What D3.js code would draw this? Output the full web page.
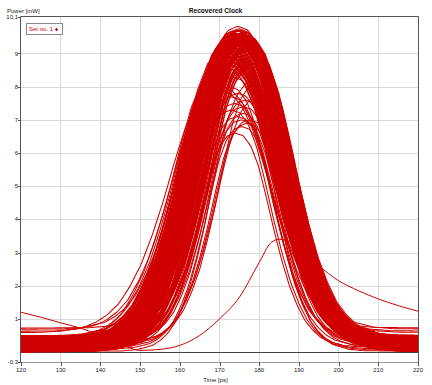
<!DOCTYPE html>
<html><head><meta charset="utf-8">
<script src="https://cdn.jsdelivr.net/npm/d3@7"></script>
<style>
body{margin:0;background:#fff;}
svg{display:block;font-family:"Liberation Sans",Arial,sans-serif;}
</style></head><body>
<svg id="c" width="432" height="385"></svg>
<script>
// ---- data ----
const xTicks = [120,130,140,150,160,170,180,190,200,210,220];
const yTicks = [-0.3,1,2,3,4,5,6,7,8,9,10.1];
const yTickLabels = ["-0.3","1","2","3","4","5","6","7","8","9","10,1"];

// normalized pulse shape (offset from centre in ps -> fraction of pulse height)
const pulseOffsets = [-60,-40,-35,-30,-27.5,-25,-22.5,-20,-17.5,-15,-12.5,-10,-7.5,-5,-2.5,0,2.5,5,7.5,10,12.5,15,17.5,20,22.5,25,27.5,30,35,40,60];
const pulseShape   = [0,0.002,0.008,0.025,0.045,0.075,0.12,0.19,0.28,0.40,0.54,0.70,0.845,0.94,0.988,1,0.988,0.94,0.845,0.70,0.545,0.405,0.285,0.195,0.125,0.08,0.048,0.028,0.009,0.003,0];

// per-trace pulse centre [ps], top level [mW], width factor, baseline [mW]
const traceCenter = [
174.2,175.6,173.1,176.4,172.8,174.9,177.2,173.6,175.3,171.9,
176.0,174.5,177.8,172.5,175.1,173.8,176.7,174.0,171.5,175.8,
177.4,173.3,174.7,176.2,172.1,175.9,174.3,177.0,173.0,175.4,
176.9,172.7,174.6,178.2,173.5,175.0,171.7,176.5,174.1,172.9,
175.7,177.6,173.9,174.8,176.3,172.3,175.2,178.5,173.4,174.4,
176.8,171.2,175.5,173.7,177.1,174.0,172.6,176.1,175.0,173.2,
177.9,174.7,172.0,175.6,176.6,173.8,174.2,178.8,172.4,175.3,
176.4,173.5,174.9,171.6,177.3,175.8,173.1,174.5,176.0,172.8,
175.1,177.7,174.3,173.6,176.2,170.8,175.4,174.8,172.2,177.5,
174.0,175.5,173.0,176.5,174.6,172.5,175.9,177.0,173.8,179.5,
173.7,176.1,174.4,172.3,175.7,177.5,173.9,174.8,171.8,176.3,
175.2,173.4,177.1,174.6,172.6,175.9,176.8,173.0,174.2,178.1,
172.9,175.4,174.0,176.6,173.6,171.3,175.0,177.7,174.9,173.2,
176.2,172.4,175.6,174.3,178.4,173.8,176.9,172.1,175.3,174.7,
177.3,173.5,171.0,175.8,176.4,174.1,172.8,177.0,173.3,175.1,
174.5,176.7,172.2,178.6,173.9,175.5,171.6,176.0,174.4,177.9,
173.1,175.2,174.8,172.7,176.5,173.7,175.9,171.9,177.4,174.2,
176.1,172.5,175.0,173.4,178.0,174.6,171.4,176.3,175.7,173.0,
174.0,177.2,172.0,175.4,176.8,173.6,174.9,178.3,172.6,175.8,
170.2,179.0,169.8,180.0,176.0,174.5,173.2,175.6,177.6,172.9];
const tracePeak = [
9.4,9.55,9.1,9.5,8.9,9.6,9.3,9.45,9.7,8.8,
9.45,9.3,9.2,9.0,9.55,9.5,9.4,9.6,8.7,9.45,
9.3,9.2,9.82,9.5,8.9,9.4,9.55,9.1,9.3,9.6,
9.45,9.0,9.5,8.9,9.4,9.7,8.8,9.3,9.55,9.2,
9.5,9.1,9.45,9.6,9.3,9.0,9.55,8.8,9.4,9.5,
9.2,8.7,9.45,9.3,9.1,9.7,9.0,9.4,9.55,9.45,
8.9,9.5,8.8,9.3,9.2,9.6,9.45,8.7,9.1,9.4,
9.3,9.55,9.5,8.9,9.2,9.45,9.1,9.6,9.4,9.0,
9.5,8.9,9.3,9.55,9.1,8.6,9.45,9.6,9.2,9.0,
6.6,7.0,7.3,7.6,7.8,8.0,7.2,6.9,7.5,8.1,
9.5,9.3,9.6,9.0,9.45,9.2,9.55,9.4,8.9,9.5,
9.6,9.3,9.1,9.55,9.0,9.45,9.3,9.2,9.7,8.8,
9.1,9.5,9.4,9.55,9.45,8.7,9.6,9.0,9.3,9.5,
9.4,8.9,9.55,9.7,8.7,9.45,9.2,8.8,9.5,9.6,
9.1,9.4,8.6,9.3,9.55,9.45,9.0,9.2,9.55,9.7,
9.45,9.1,8.9,8.6,9.5,9.3,8.8,9.6,9.4,8.9,
9.3,9.55,9.45,9.1,9.4,9.6,9.2,8.7,9.1,9.5,
9.45,9.0,9.7,9.4,8.8,9.55,8.7,9.3,9.45,9.2,
9.6,9.1,8.9,9.5,9.2,9.4,9.75,8.7,9.0,9.3,
8.0,8.2,7.9,7.7,7.4,7.1,8.3,6.8,7.0,7.7];
const traceWidth = [
1.00,0.97,1.03,0.98,1.02,0.99,0.96,1.04,1.00,1.05,
0.98,1.01,0.95,1.03,0.99,1.02,0.97,1.00,1.06,0.98,
0.96,1.02,1.00,0.99,1.04,0.97,1.01,0.96,1.03,1.00,
0.97,1.04,0.99,0.95,1.02,0.98,1.05,0.97,1.01,1.03,
0.99,0.96,1.02,1.00,0.98,1.04,0.99,0.94,1.01,1.00,
0.97,1.06,0.99,1.02,0.96,1.00,1.03,0.98,1.00,1.02,
0.95,1.01,1.04,0.99,0.97,1.00,1.01,0.94,1.03,0.99,
0.98,1.02,1.00,1.05,0.96,0.99,1.03,1.00,0.98,1.02,
1.00,0.95,1.01,1.02,0.97,1.06,0.99,1.00,1.04,0.96,
0.78,0.82,0.85,0.80,0.86,0.88,0.76,0.79,0.84,0.83,
0.99,1.02,0.97,1.04,1.00,0.96,1.01,0.98,1.05,1.00,
0.97,1.03,0.96,1.00,1.04,0.98,0.97,1.02,0.99,0.95,
1.03,1.00,1.01,0.98,1.02,1.06,0.99,0.95,1.00,1.03,
0.98,1.04,1.00,0.97,0.94,1.01,0.97,1.05,0.99,1.00,
0.96,1.02,1.06,0.99,0.98,1.00,1.03,0.96,1.02,0.99,
1.01,0.97,1.04,0.94,1.00,0.99,1.05,0.98,1.01,0.95,
1.03,1.00,0.99,1.04,0.97,1.01,0.98,1.05,0.96,1.00,
0.98,1.03,0.99,1.02,0.95,1.00,1.06,0.97,0.99,1.03,
1.01,0.96,1.05,1.00,0.97,1.02,0.99,0.94,1.04,0.98,
1.10,0.95,1.12,0.92,0.83,0.86,0.90,0.77,0.80,0.87];
const traceBase = [
0.22,0.35,0.10,0.41,0.05,0.28,0.17,0.46,0.02,0.31,
0.13,0.38,0.25,0.08,0.44,0.19,0.33,0.01,0.27,0.40,
0.11,0.36,0.21,0.06,0.48,0.15,0.30,0.03,0.42,0.24,
0.09,0.37,0.18,0.45,0.12,0.29,0.04,0.39,0.20,0.34,
0.07,0.43,0.16,0.26,0.00,0.47,0.14,0.32,0.23,0.05,
0.38,0.11,0.29,0.44,0.02,0.21,0.35,0.08,0.41,0.17,
0.26,0.04,0.46,0.13,0.31,0.09,0.37,0.19,0.24,0.43,
0.06,0.33,0.15,0.40,0.01,0.28,0.12,0.45,0.22,0.36,
0.18,0.03,0.42,0.27,0.10,0.62,0.30,0.07,0.68,0.20,
0.14,0.25,0.05,0.34,0.11,0.39,0.02,0.23,0.16,0.30,
0.30,0.12,0.44,0.06,0.25,0.38,0.15,0.49,0.03,0.33,
0.20,0.41,0.09,0.27,0.36,0.01,0.45,0.18,0.23,0.11,
0.39,0.05,0.32,0.14,0.47,0.26,0.08,0.35,0.19,0.42,
0.02,0.29,0.13,0.40,0.22,0.07,0.37,0.16,0.46,0.24,
0.10,0.34,0.43,0.04,0.28,0.17,0.39,0.12,0.31,0.21,
0.45,0.06,0.26,0.36,0.14,0.48,0.09,0.33,0.19,0.41,
0.03,0.27,0.38,0.11,0.22,0.44,0.00,0.30,0.16,0.35,
0.08,0.42,0.24,0.13,0.37,0.05,0.29,0.47,0.18,0.32,
0.10,0.40,0.21,0.02,0.34,0.15,0.43,0.26,0.07,0.38,
0.25,0.18,0.58,0.12,0.31,0.20,0.72,0.09,0.28,0.35];

// one odd trace (low, late pulse wrapping around the window)
const oddTime  = [120,125,130,135,140,145,150,155,160,165,170,175,180,183,185,188,190,195,200,205,210,215,220];
const oddPower = [1.2,1.05,0.88,0.72,0.5,0.25,0.05,0.08,0.2,0.5,1.0,1.65,2.7,3.3,3.4,3.3,3.1,2.6,2.15,1.85,1.6,1.4,1.23];

// ---- drawing ----
const svg = d3.select("#c");
const L=21,R=418,T=17,B=362;
const x = d3.scaleLinear().domain([120,220]).range([L,R]);
const y = d3.scaleLinear().domain([-0.3,10.1]).range([B,T]);
const shape = d3.scaleLinear().domain(pulseOffsets).range(pulseShape).clamp(true);
const RED = "#d00000";

// grid
const g = svg.append("g");
g.selectAll(".vg").data(xTicks.slice(1,-1)).join("line")
  .attr("x1",d=>x(d)).attr("x2",d=>x(d)).attr("y1",T).attr("y2",B)
  .attr("stroke","#d9d9d9").attr("stroke-width",1).attr("shape-rendering","crispEdges");
g.selectAll(".hg").data(yTicks.slice(1,-1)).join("line")
  .attr("x1",L).attr("x2",R).attr("y1",d=>Math.round(y(d))+0.5).attr("y2",d=>Math.round(y(d))+0.5)
  .attr("stroke","#d9d9d9").attr("stroke-width",1);

// zero line
svg.append("line").attr("x1",L).attr("x2",R).attr("y1",Math.round(y(0))+0.5).attr("y2",Math.round(y(0))+0.5)
  .attr("stroke","#444").attr("stroke-width",1);

// traces
svg.append("clipPath").attr("id","pc").append("rect")
  .attr("x",L).attr("y",T).attr("width",R-L).attr("height",B-T);
const tGrid = d3.range(120,220.001,0.5);
const line = d3.line().x(d=>x(d[0])).y(d=>y(d[1]));
const traces = traceCenter.map((c,i)=>tGrid.map(t=>[t, traceBase[i] + (tracePeak[i]-traceBase[i])*shape((t-c)/traceWidth[i])]));
const tg = svg.append("g").attr("clip-path","url(#pc)");
tg.selectAll("path.tr").data(traces).join("path").attr("class","tr")
  .attr("d",line).attr("fill","none").attr("stroke",RED).attr("stroke-width",1.05);
tg.append("path").datum(oddTime.map((t,i)=>[t,oddPower[i]]))
  .attr("d",line.curve(d3.curveMonotoneX)).attr("fill","none").attr("stroke",RED).attr("stroke-width",1);

// frame
svg.append("line").attr("x1",L).attr("x2",R).attr("y1",B+0.5).attr("y2",B+0.5).attr("stroke","#999");
svg.append("line").attr("x1",L-0.5).attr("x2",R+0.5).attr("y1",T-0.5).attr("y2",T-0.5).attr("stroke","#555");
svg.append("line").attr("x1",L-0.5).attr("x2",L-0.5).attr("y1",T-0.5).attr("y2",B+1).attr("stroke","#555");
svg.append("line").attr("x1",R+0.5).attr("x2",R+0.5).attr("y1",T-0.5).attr("y2",B+1).attr("stroke","#555");

// axes ticks and labels
svg.selectAll(".yt").data(yTicks).join("line")
  .attr("x1",L-3).attr("x2",L).attr("y1",d=>Math.round(y(d))+0.5).attr("y2",d=>Math.round(y(d))+0.5).attr("stroke","#555");
svg.selectAll(".yl").data(yTicks).join("text")
  .attr("x",18).attr("y",d=>y(d)).attr("dy","0.35em").attr("text-anchor","end")
  .attr("font-size","6px").attr("fill","#222").text((d,i)=>yTickLabels[i]);
svg.selectAll(".xt").data(xTicks).join("line")
  .attr("x1",d=>Math.round(x(d))+0.5).attr("x2",d=>Math.round(x(d))+0.5).attr("y1",B).attr("y2",B+4).attr("stroke","#555");
svg.selectAll(".xl").data(xTicks).join("text")
  .attr("x",d=>x(d)).attr("y",372).attr("text-anchor","middle")
  .attr("font-size","6px").attr("fill","#222").text(d=>d);

svg.append("text").attr("x",215.5).attr("y",381.5).attr("text-anchor","middle")
  .attr("font-size","6px").attr("fill","#222").text("Time [ps]");
svg.append("text").attr("x",7).attr("y",12.5)
  .attr("font-size","6px").attr("fill","#222").text("Power [mW]");
svg.append("text").attr("x",215.5).attr("y",12.5).attr("text-anchor","middle")
  .attr("font-size","6.6px").attr("font-weight","bold").attr("fill","#111").text("Recovered Clock");

// legend
const lg = svg.append("g");
lg.append("rect").attr("x",26.5).attr("y",23.5).attr("width",36).attr("height",11)
  .attr("fill","#fff").attr("stroke","#888");
lg.append("text").attr("x",29).attr("y",31.3).attr("font-size","6px").attr("fill",RED).text("Set no. 1");
lg.append("path").attr("d","M55,29.5h3M56.5,28v3").attr("stroke",RED).attr("stroke-width",1);
</script>
</body></html>
